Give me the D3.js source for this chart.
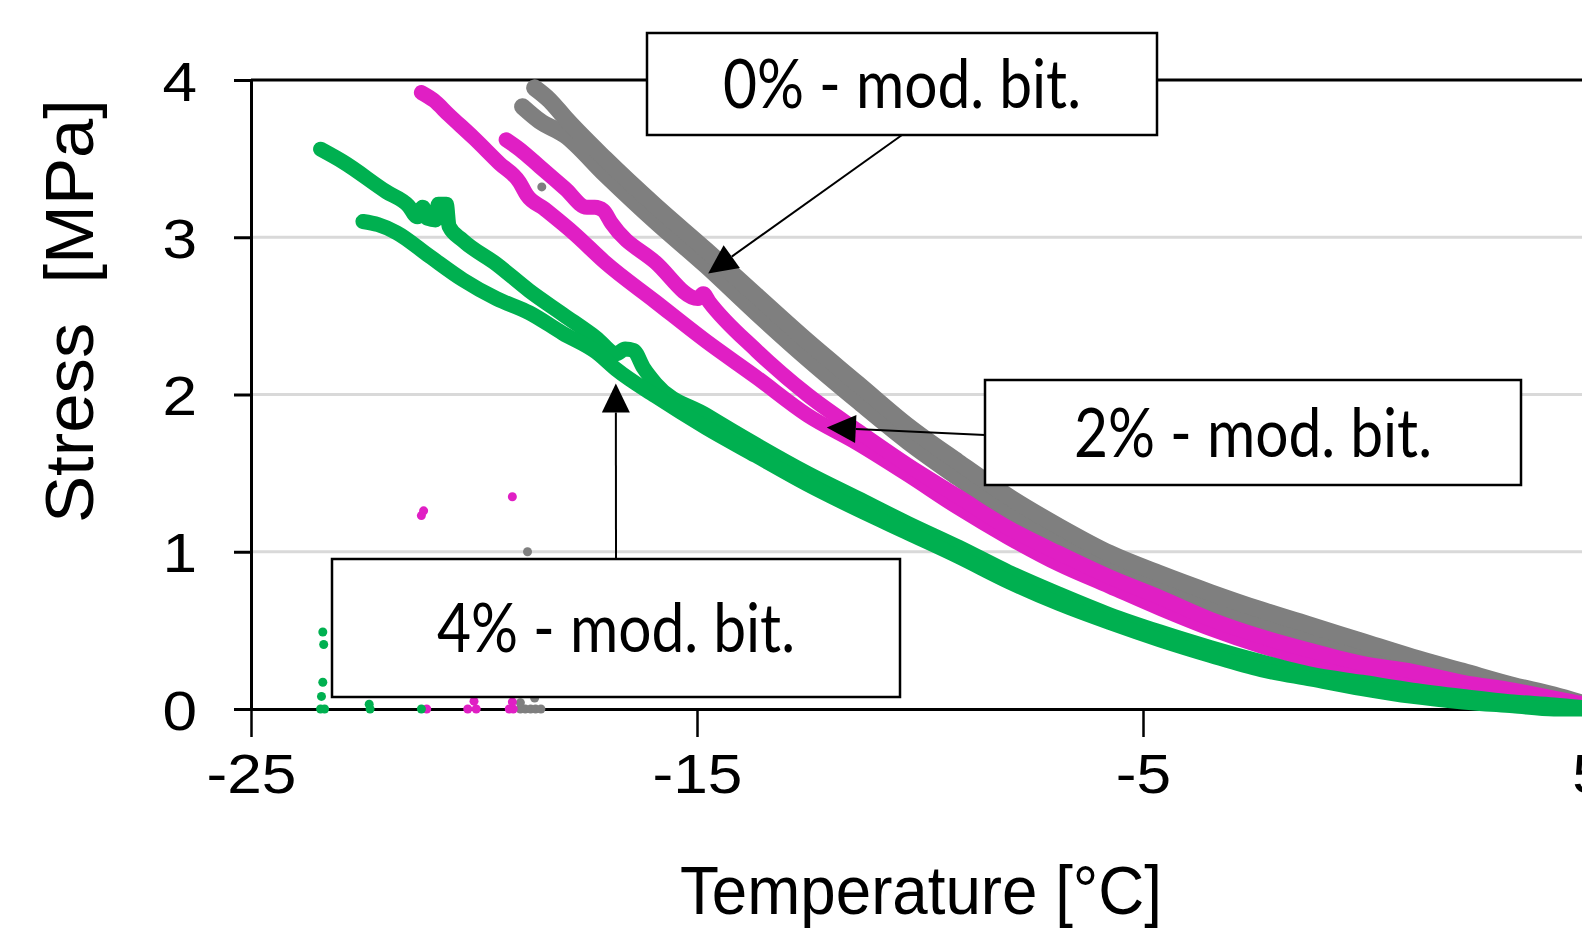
<!DOCTYPE html>
<html>
<head>
<meta charset="utf-8">
<script src="https://cdn.jsdelivr.net/npm/d3@7"></script>
<style>
  html, body { margin: 0; padding: 0; background: #ffffff; overflow: hidden; }
  svg { display: block; }
</style>
</head>
<body>
<svg id="chart" width="1582" height="928"></svg>
<script>
// ---- axis ticks ----
const xTicks = [-25, -15, -5, 5];
const yTicks = [0, 1, 2, 3, 4];
const gridValues = [1, 2, 3];

// ---- 0 % modified bitumen: two cooling runs (temperature °C, stress MPa) ----
const gray1T = [-18.64, -18.30, -17.96, -17.06, -15.93, -14.80, -13.67, -12.53, -11.40, -10.27, -9.14, -8.01, -6.88, -5.75, -4.62, -3.48, -2.35, -1.22, -0.09, 1.04, 2.17, 3.30, 4.21, 4.93];
const gray1S = [3.95, 3.87, 3.76, 3.50, 3.20, 2.92, 2.63, 2.34, 2.07, 1.80, 1.57, 1.35, 1.16, 0.99, 0.86, 0.74, 0.63, 0.53, 0.43, 0.33, 0.24, 0.15, 0.09, 0.03];
const gray2T = [-18.91, -18.53, -17.96, -17.06, -15.93, -14.80, -13.67, -12.53, -11.40, -10.27, -9.14, -8.01, -6.88, -5.75, -4.62, -3.48, -2.35, -1.22, -0.09, 1.04, 2.17, 3.30, 4.21, 4.93];
const gray2S = [3.83, 3.74, 3.65, 3.40, 3.10, 2.82, 2.52, 2.23, 1.96, 1.70, 1.47, 1.25, 1.06, 0.90, 0.77, 0.65, 0.54, 0.45, 0.35, 0.27, 0.18, 0.10, 0.05, 0.01];
const grayStrayT = [-18.48, -18.80, -18.96, -18.85, -18.73, -18.62, -18.50, -18.64, -18.96];
const grayStrayS = [3.32, 1.00, 0.00, 0.00, 0.00, 0.00, 0.00, 0.07, 0.04];

// ---- 2 % modified bitumen ----
const mag1T = [-21.18, -20.90, -20.57, -20.00, -19.43, -18.98, -18.82, -18.42, -17.74, -17.06, -15.93, -14.80, -13.67, -12.53, -11.40, -10.27, -9.14, -8.01, -6.88, -5.75, -4.62, -3.48, -2.35, -1.22, -0.09, 1.04, 2.17, 3.30, 4.21, 4.93];
const mag1S = [3.92, 3.87, 3.78, 3.63, 3.47, 3.35, 3.27, 3.18, 3.02, 2.84, 2.59, 2.34, 2.11, 1.87, 1.69, 1.49, 1.28, 1.09, 0.92, 0.78, 0.64, 0.51, 0.40, 0.31, 0.24, 0.19, 0.13, 0.08, 0.05, 0.01];
const mag2T = [-19.28, -18.98, -18.53, -17.96, -17.47, -17.29, -17.10, -16.92, -15.93, -14.98, -14.86, -14.73, -13.67, -12.53, -11.40, -10.27, -9.14, -8.01, -6.88, -5.75, -4.62, -3.48, -2.35, -1.22, -0.09, 1.04, 2.17, 3.30, 4.21, 4.93];
const mag2S = [3.62, 3.56, 3.45, 3.31, 3.19, 3.19, 3.17, 3.09, 2.84, 2.61, 2.64, 2.59, 2.28, 2.00, 1.77, 1.55, 1.35, 1.15, 0.99, 0.84, 0.71, 0.57, 0.46, 0.37, 0.29, 0.24, 0.17, 0.12, 0.07, 0.03];
const magStrayT = [-21.18, -21.13, -19.14, -21.06, -20.14, -19.95, -20.00, -19.21, -19.12, -19.14];
const magStrayS = [1.23, 1.26, 1.35, 0.00, 0.00, 0.00, 0.05, 0.00, 0.00, 0.045];

// ---- 4 % modified bitumen ----
const green1T = [-23.44, -22.94, -21.97, -21.47, -21.27, -21.15, -21.04, -20.86, -20.80, -20.62, -20.56, -20.25, -19.50, -18.76, -18.01, -17.26, -16.81, -16.61, -16.42, -16.20, -15.93, -14.80, -13.67, -12.53, -11.40, -10.27, -9.14, -8.01, -6.88, -5.75, -4.62, -3.48, -2.35, -1.22, -0.09, 1.04, 2.17, 3.30, 4.21, 4.93];
const green1S = [3.56, 3.48, 3.29, 3.20, 3.13, 3.19, 3.12, 3.11, 3.21, 3.21, 3.07, 2.98, 2.83, 2.66, 2.51, 2.36, 2.26, 2.29, 2.28, 2.17, 2.07, 1.87, 1.68, 1.50, 1.34, 1.18, 1.03, 0.87, 0.73, 0.60, 0.49, 0.39, 0.30, 0.22, 0.17, 0.12, 0.08, 0.045, 0.026, 0.006];
const green2T = [-22.49, -22.15, -21.74, -21.00, -20.25, -19.50, -18.76, -18.01, -17.26, -16.81, -15.93, -14.80, -13.67, -12.53, -11.40, -10.27, -9.14, -8.01, -6.88, -5.75, -4.62, -3.48, -2.35, -1.22, -0.09, 1.04, 2.17, 3.30, 4.21, 4.93];
const green2S = [3.10, 3.08, 3.03, 2.88, 2.73, 2.61, 2.52, 2.39, 2.27, 2.16, 1.99, 1.79, 1.61, 1.43, 1.27, 1.12, 0.97, 0.81, 0.67, 0.55, 0.44, 0.34, 0.25, 0.19, 0.13, 0.08, 0.045, 0.02, 0.00, 0.00];
const greenStrayT = [-23.39, -23.37, -23.39, -23.42, -23.44, -23.35, -22.35, -22.33, -21.18];
const greenStrayS = [0.49, 0.41, 0.17, 0.08, 0.00, 0.00, 0.03, 0.00, 0.00];

// ---- callout labels and the point each arrow indicates ----
const noteLabels = ["0% - mod. bit.", "2% - mod. bit.", "4% - mod. bit."];
const noteTipT = [-14.75, -12.09, -16.82];
const noteTipS = [2.77, 1.79, 2.07];

const zip = (a, b) => a.map((v, i) => [v, b[i]]);

const series = [
  { color: "#7f7f7f", width: 17, runs: [zip(gray2T, gray2S), zip(gray1T, gray1S)], strays: zip(grayStrayT, grayStrayS) },
  { color: "#e01fc4", width: 15, runs: [zip(mag1T, mag1S), zip(mag2T, mag2S)], strays: zip(magStrayT, magStrayS) },
  { color: "#00b050", width: 15, runs: [zip(green1T, green1S), zip(green2T, green2S)], strays: zip(greenStrayT, greenStrayS) }
];

// ---- layout ----
const W = 1582, H = 928;
const plot = { left: 251, top: 80, bottom: 709 };

const svg = d3.select("#chart");

const x = d3.scaleLinear().domain([-25, 5]).range([plot.left, plot.left + 30 * 44.6]);
const y = d3.scaleLinear().domain([0, 4]).range([plot.bottom, plot.top]);

// horizontal gridlines
svg.append("g")
  .selectAll("line")
  .data(gridValues)
  .join("line")
  .attr("x1", plot.left).attr("x2", W)
  .attr("y1", d => y(d)).attr("y2", d => y(d))
  .attr("stroke", "#d9d9d9").attr("stroke-width", 3);

// plot-area top border
svg.append("line")
  .attr("x1", plot.left).attr("x2", W)
  .attr("y1", y(4)).attr("y2", y(4))
  .attr("stroke", "#000").attr("stroke-width", 3);

const tickFont = "'Liberation Sans', Arial, sans-serif";
const plainNumber = d => String(d);

// y axis
const yAxis = svg.append("g")
  .attr("transform", `translate(${plot.left},0)`)
  .call(d3.axisLeft(y).tickValues(yTicks).tickSize(17).tickSizeOuter(0).tickFormat(plainNumber));
yAxis.select(".domain").attr("stroke", "#000").attr("stroke-width", 3);
yAxis.selectAll(".tick line").attr("stroke", "#000").attr("stroke-width", 3);
yAxis.selectAll(".tick text")
  .attr("x", null).attr("y", null).attr("dy", null)
  .attr("transform", "translate(-54,20) scale(1.11,1)")
  .attr("fill", "#000")
  .style("font-family", tickFont).style("font-size", "56px");

// x axis
const xAxis = svg.append("g")
  .attr("transform", `translate(0,${plot.bottom})`)
  .call(d3.axisBottom(x).tickValues(xTicks).tickSize(28).tickSizeOuter(0).tickFormat(plainNumber));
xAxis.select(".domain").attr("stroke", "#000").attr("stroke-width", 3);
xAxis.selectAll(".tick line").attr("stroke", "#000").attr("stroke-width", 2.5);
xAxis.selectAll(".tick text")
  .attr("y", null).attr("dy", null)
  .attr("transform", "translate(0,84) scale(1.11,1)")
  .attr("fill", "#000")
  .style("font-family", tickFont).style("font-size", "56px");

// axis titles
svg.append("text")
  .attr("x", 921).attr("y", 914)
  .attr("text-anchor", "middle")
  .attr("textLength", 482).attr("lengthAdjust", "spacingAndGlyphs")
  .style("font-family", tickFont).style("font-size", "68px")
  .text("Temperature [°C]");

svg.append("text")
  .attr("transform", "translate(93,311) rotate(-90)")
  .attr("text-anchor", "middle")
  .attr("textLength", 424).attr("lengthAdjust", "spacingAndGlyphs")
  .style("font-family", tickFont).style("font-size", "68px")
  .style("white-space", "pre")
  .text("Stress  [MPa]");

// measured runs, drawn as dense bands of overlapping samples
const line = d3.line()
  .x(d => x(d[0]))
  .y(d => y(d[1]))
  .curve(d3.curveMonotoneX);

const bands = svg.append("g");
series.forEach(s => {
  const g = bands.append("g");
  g.selectAll("path")
    .data(s.runs)
    .join("path")
    .attr("d", line)
    .attr("fill", "none")
    .attr("stroke", s.color)
    .attr("stroke-width", s.width)
    .attr("stroke-linecap", "round")
    .attr("stroke-linejoin", "round");
  g.selectAll("circle")
    .data(s.strays)
    .join("circle")
    .attr("cx", d => x(d[0]))
    .attr("cy", d => y(d[1]))
    .attr("r", 4.5)
    .attr("fill", s.color);
});

// ---- callouts ----
const noteBoxes = [
  { x: 647, y: 33, w: 510, h: 102, fromX: 902, fromY: 135 },
  { x: 985, y: 380, w: 536, h: 105, fromX: 985, fromY: 435 },
  { x: 332, y: 559, w: 568, h: 138, fromX: 616, fromY: 559 }
];
const noteFont = "Lato, 'Open Sans', sans-serif";

const notes = svg.append("g");
noteBoxes.forEach((b, i) => {
  const tipX = x(noteTipT[i]), tipY = y(noteTipS[i]);
  const dx = tipX - b.fromX, dy = tipY - b.fromY;
  const len = Math.hypot(dx, dy);
  const ux = dx / len, uy = dy / len;
  const headLen = 29, headHalf = 14;
  const bx = tipX - ux * headLen, by = tipY - uy * headLen;

  notes.append("line")
    .attr("x1", b.fromX).attr("y1", b.fromY)
    .attr("x2", bx).attr("y2", by)
    .attr("stroke", "#000").attr("stroke-width", 2);
  notes.append("path")
    .attr("d", `M${tipX},${tipY}L${bx - uy * headHalf},${by + ux * headHalf}L${bx + uy * headHalf},${by - ux * headHalf}Z`)
    .attr("fill", "#000");

  notes.append("rect")
    .attr("x", b.x).attr("y", b.y)
    .attr("width", b.w).attr("height", b.h)
    .attr("fill", "#fff").attr("stroke", "#000").attr("stroke-width", 2.5);
  notes.append("text")
    .attr("x", b.x + b.w / 2)
    .attr("y", b.y + b.h / 2 + 24)
    .attr("text-anchor", "middle")
    .attr("textLength", 358).attr("lengthAdjust", "spacingAndGlyphs")
    .style("font-family", noteFont).style("font-size", "67px")
    .attr("fill", "#000")
    .text(noteLabels[i]);
});
</script>
</body>
</html>
